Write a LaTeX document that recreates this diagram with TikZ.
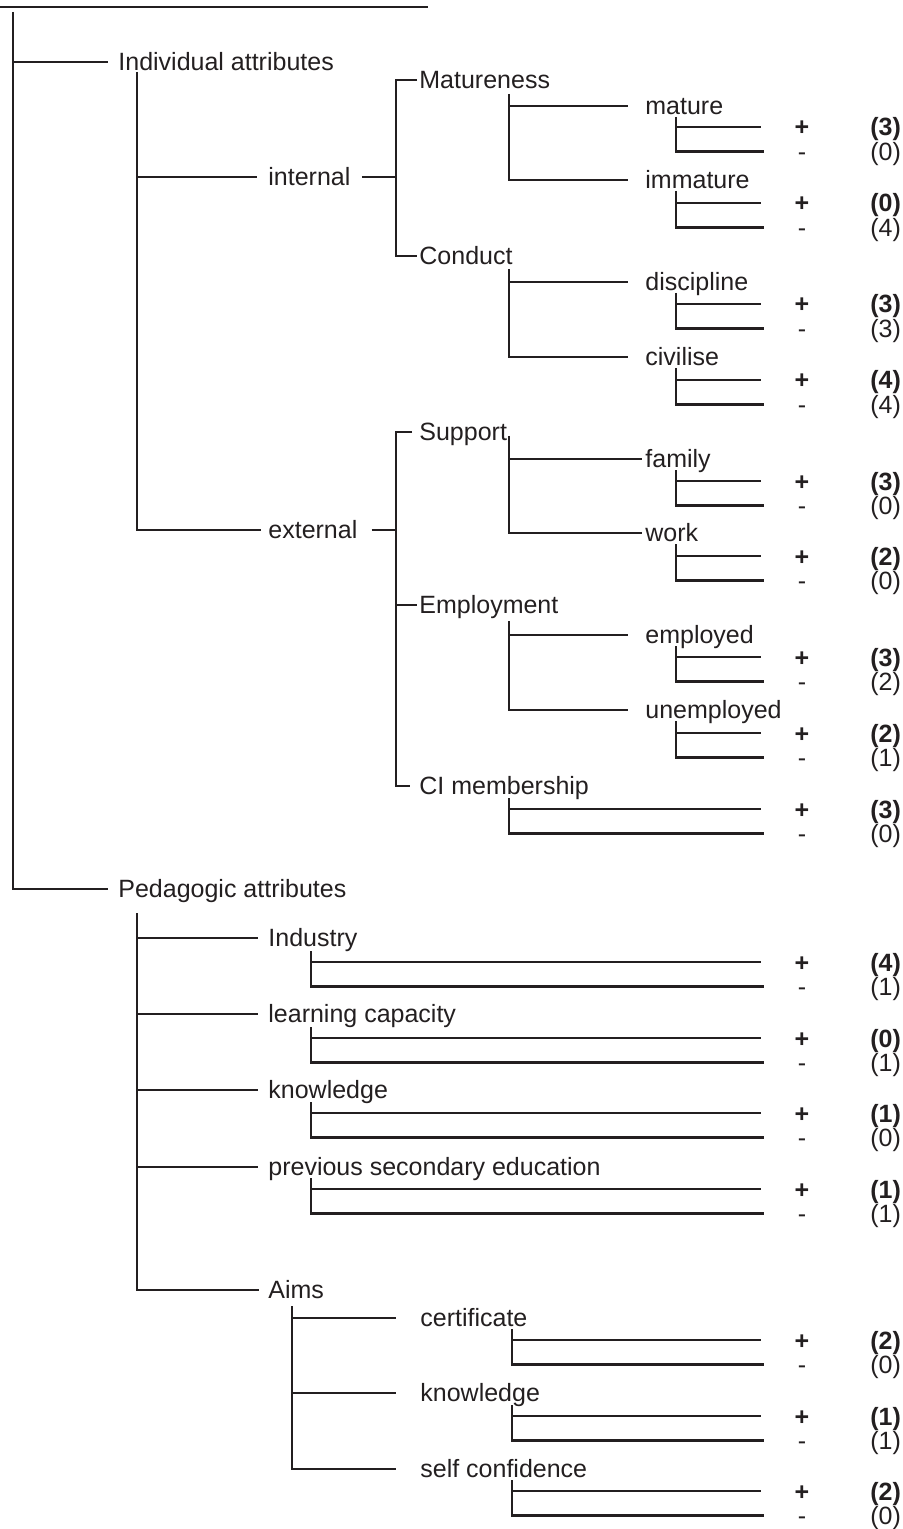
\documentclass[tikz,border=0pt]{standalone}
\usepackage{fontspec}
\setmainfont{Liberation Sans}
\definecolor{ink}{RGB}{35,31,32}
\newcommand{\lbl}{\fontsize{12.5pt}{15pt}\selectfont}

% one pair of +/- outcome lines with their counts
% #1 name, #2 spine x, #3 spine top y, #4 y of the + line, #5 + count, #6 - count
\newcommand{\leafpair}[6]{%
  \coordinate (#1-sp) at (#2,#3);
  \node[sgn, font=\lbl\bfseries] (#1-p) at (802,#4) {+};
  \node[sgn] (#1-m) at (802,#4+24.5) {-};
  \node[num, font=\lbl\bfseries] (#1-pn) at (870,#4) {(#5)};
  \node[num] (#1-mn) at (870,#4+24.5) {(#6)};
  \draw[conn, shorten >=16.5pt] (#1-sp) |- (#1-m);
  \draw[conn, shorten >=16.5pt] (#1-sp |- #1-p) -- (#1-p);
}

\begin{document}
\begin{tikzpicture}[x=0.5pt, y=-0.5pt,
  conn/.style={draw=ink, line width=1.2pt},
  lab/.style={anchor=west, inner sep=0pt, text height=8.5pt, text depth=0pt, text=ink, font=\lbl},
  sgn/.style={anchor=center, inner sep=0pt, text height=9pt, text depth=0pt, text=ink, font=\lbl},
  num/.style={anchor=west, inner sep=0pt, text height=9pt, text depth=0pt, text=ink, font=\lbl}]
\useasboundingbox (0,0) rectangle (903,1529);

% heading rule
\coordinate (title-l) at (0,7);
\coordinate (title-r) at (428,7);
\draw[conn] (title-l) -- (title-r);

% first level
\node[lab] (indiv) at (118,62) {Individual attributes};
\node[lab] (peda) at (118,889) {Pedagogic attributes};
\coordinate (main-sp) at (13,12);
\draw[conn, shorten >=5pt] (main-sp) |- (peda.west);
\draw[conn, shorten >=5pt] (main-sp |- indiv.west) -- (indiv.west);

% individual attributes
\node[lab] (internal) at (268,177) {internal};
\node[lab] (external) at (268,530) {external};
\coordinate (indiv-sp) at (137,72);
\draw[conn, shorten >=3.5pt] (indiv-sp) |- (external.west);
\draw[conn, shorten >=5.5pt] (indiv-sp |- internal.west) -- (internal.west);

\coordinate (sub-x) at (396,0);

% internal
\node[lab] (matur) at (419,80) {Matureness};
\node[lab] (conduct) at (419,256) {Conduct};
\draw[conn, shorten <=5.5pt] (internal.east) -- (internal.east -| sub-x);
\draw[conn, shorten <=1pt, shorten >=1pt] (matur.west) -- (matur.west -| sub-x) |- (conduct.west);

% external
\node[lab] (support) at (419,432) {Support};
\node[lab] (employ) at (419,605) {Employment};
\node[lab] (cim) at (419,786) {CI membership};
\draw[conn, shorten <=7pt] (external.east) -- (external.east -| sub-x);
\draw[conn, shorten <=3.5pt, shorten >=4.5pt] (support.west) -- (support.west -| sub-x) |- (cim.west);
\draw[conn, shorten >=1pt] (employ.west -| sub-x) -- (employ.west);

% fourth level
\node[lab] (mature) at (645,106) {mature};
\node[lab] (immature) at (645,180) {immature};
\coordinate (matur-sp) at (509,94);
\draw[conn, shorten >=8.5pt] (matur-sp) |- (immature.west);
\draw[conn, shorten >=8.5pt] (matur-sp |- mature.west) -- (mature.west);

\node[lab] (discipline) at (645,282) {discipline};
\node[lab] (civilise) at (645,357) {civilise};
\coordinate (conduct-sp) at (509,269);
\draw[conn, shorten >=8.5pt] (conduct-sp) |- (civilise.west);
\draw[conn, shorten >=8.5pt] (conduct-sp |- discipline.west) -- (discipline.west);

\node[lab] (family) at (645,459) {family};
\node[lab] (work) at (645,533) {work};
\coordinate (support-sp) at (509,436);
\draw[conn, shorten >=1.5pt] (support-sp) |- (work.west);
\draw[conn, shorten >=1.5pt] (support-sp |- family.west) -- (family.west);

\node[lab] (employed) at (645,635) {employed};
\node[lab] (unemployed) at (645,710) {unemployed};
\coordinate (employ-sp) at (509,621);
\draw[conn, shorten >=8.5pt] (employ-sp) |- (unemployed.west);
\draw[conn, shorten >=8.5pt] (employ-sp |- employed.west) -- (employed.west);

% outcomes of the individual attributes
\leafpair{mature}{676}{117}{127}{3}{0}
\leafpair{immature}{676}{191}{203}{0}{4}
\leafpair{discipline}{676}{293}{304}{3}{3}
\leafpair{civilise}{676}{368}{380}{4}{4}
\leafpair{family}{676}{470}{481}{3}{0}
\leafpair{work}{676}{544}{556}{2}{0}
\leafpair{employed}{676}{646}{657}{3}{2}
\leafpair{unemployed}{676}{721}{733}{2}{1}
\leafpair{cim}{509}{798}{809}{3}{0}

% pedagogic attributes
\node[lab] (industry) at (268,938) {Industry};
\node[lab] (learning) at (268,1014) {learning capacity};
\node[lab] (knowl) at (268,1090) {knowledge};
\node[lab] (prevsec) at (268,1167) {previous secondary education};
\node[lab] (aims) at (268,1290) {Aims};
\coordinate (peda-sp) at (137,913);
\draw[conn, shorten >=4.5pt] (peda-sp) |- (aims.west);
\foreach \n in {industry,learning,knowl,prevsec}
  \draw[conn, shorten >=5pt] (peda-sp |- \n.west) -- (\n.west);

\leafpair{industry}{311}{951}{962}{4}{1}
\leafpair{learning}{311}{1027}{1038}{0}{1}
\leafpair{knowl}{311}{1102}{1113}{1}{0}
\leafpair{prevsec}{311}{1178}{1189}{1}{1}

% aims
\node[lab] (cert) at (420,1318) {certificate};
\node[lab] (aknow) at (420,1393) {knowledge};
\node[lab] (selfc) at (420,1469) {self confidence};
\coordinate (aims-sp) at (292,1306);
\draw[conn, shorten >=12pt] (aims-sp) |- (selfc.west);
\foreach \n in {cert,aknow}
  \draw[conn, shorten >=12pt] (aims-sp |- \n.west) -- (\n.west);

\leafpair{cert}{512}{1329}{1340}{2}{0}
\leafpair{aknow}{512}{1405}{1416}{1}{1}
\leafpair{selfc}{512}{1480}{1491}{2}{0}
\end{tikzpicture}
\end{document}
